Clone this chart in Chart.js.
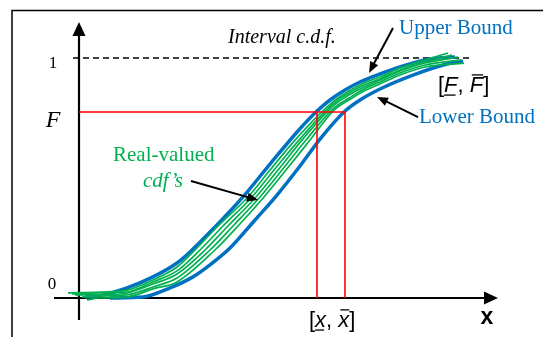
<!DOCTYPE html>
<html><head><meta charset="utf-8">
<script src="https://cdn.jsdelivr.net/npm/chart.js@4.4.1/dist/chart.umd.min.js"></script>
<style>html,body{margin:0;padding:0;background:#fff;overflow:hidden}#wrap{width:543px;height:337px;position:relative}</style>
</head><body><div id="wrap"><canvas id="c" width="543" height="337"></canvas></div>
<script>
// ---- data (x in arbitrary units, F = cumulative probability) ----
const upperX = [6, 24, 48, 74, 98, 111, 136, 164, 191, 219, 237, 251, 266, 281, 298, 321, 351, 376];
const upperF = [0.004, 0.013, 0.042, 0.088, 0.146, 0.192, 0.296, 0.421, 0.558, 0.696, 0.775, 0.825, 0.867, 0.9, 0.929, 0.963, 0.996, 1.004];
const lowerX = [31, 64, 91, 114, 131, 151, 176, 198, 221, 242, 265, 281, 301, 334, 368, 384];
const lowerF = [0, 0.004, 0.042, 0.088, 0.138, 0.208, 0.325, 0.429, 0.55, 0.667, 0.775, 0.825, 0.871, 0.929, 0.975, 0.988];
const cdf1X = [-11, 21, 48, 74, 98, 116, 139, 169, 191, 216, 255, 270, 285, 301, 321, 346, 369];
const cdf1F = [0.021, 0.025, 0.033, 0.075, 0.129, 0.2, 0.3, 0.421, 0.533, 0.658, 0.821, 0.8625, 0.896, 0.921, 0.958, 0.992, 1.021];
const cdf2X = [-7, 21, 48, 74, 98, 121, 144, 173, 195, 220, 255, 270, 285, 301, 321, 346, 373];
const cdf2F = [0.017, 0.021, 0.025, 0.067, 0.113, 0.2, 0.3, 0.421, 0.533, 0.658, 0.8125, 0.854, 0.8875, 0.9125, 0.95, 0.983, 1.0125];
const cdf3X = [-4, 21, 48, 74, 98, 126, 149, 177, 199, 223, 255, 270, 285, 301, 321, 346, 379];
const cdf3F = [0.013, 0.013, 0.021, 0.058, 0.1, 0.2, 0.3, 0.421, 0.533, 0.658, 0.804, 0.846, 0.879, 0.908, 0.946, 0.979, 1.004];
const cdf4X = [3, 21, 48, 74, 98, 131, 154, 181, 203, 227, 255, 270, 285, 301, 321, 346, 382];
const cdf4F = [0.004, 0.008, 0.013, 0.046, 0.083, 0.2, 0.3, 0.421, 0.533, 0.658, 0.792, 0.833, 0.871, 0.9, 0.9375, 0.971, 0.992];
const cdf5X = [8, 21, 48, 74, 98, 136, 159, 185, 207, 231, 255, 270, 285, 301, 321, 346, 385];
const cdf5F = [-0.008, 0, 0.004, 0.038, 0.067, 0.2, 0.3, 0.421, 0.533, 0.658, 0.783, 0.825, 0.8625, 0.892, 0.929, 0.9625, 0.979];
const fLevel = 0.775;          // F
const xInterval = [238, 266];  // [x_, x-bar]
const topLevel = 1;            // interval c.d.f. upper limit
const yTickValues = [0, 1];
const yTickLabels = ['0', '1'];

// ---- styles / layout ----
const BLUE = '#0070C0', GREEN = '#00B050', RED = '#FF0000';
const SERIF = '"Liberation Serif", "DejaVu Serif", serif';
const SANS = '"Liberation Sans", Arial, sans-serif';
const pts = (xs, fs) => xs.map((x, i) => ({x: x, y: fs[i]}));
const line = (data, color, width, order, extra) => Object.assign({
  data: data, borderColor: color, borderWidth: width, pointRadius: 0, showLine: true,
  fill: false, order: order, cubicInterpolationMode: 'monotone', clip: false
}, extra || {});
const straight = {cubicInterpolationMode: 'default', tension: 0};

const datasets = [
  line(pts([0, xInterval[1]], [fLevel, fLevel]), RED, 1.6, 0, straight),
  line(pts([xInterval[0], xInterval[0]], [0, fLevel]), RED, 1.6, 0, straight),
  line(pts([xInterval[1], xInterval[1]], [0, fLevel]), RED, 1.6, 0, straight),
  line(pts(cdf1X, cdf1F), GREEN, 1.7, 1),
  line(pts(cdf2X, cdf2F), GREEN, 1.7, 1),
  line(pts(cdf3X, cdf3F), GREEN, 1.7, 1),
  line(pts(cdf4X, cdf4F), GREEN, 1.7, 1),
  line(pts(cdf5X, cdf5F), GREEN, 1.7, 1),
  line(pts(upperX, upperF), BLUE, 3.5, 2),
  line(pts(lowerX, lowerF), BLUE, 3.5, 2),
  line(pts([-6, 390], [topLevel, topLevel]), '#000', 1.3, 3, Object.assign({borderDash: [6, 4]}, straight))
];

// annotation positions in data units
const ann = {
  yAxis: {x: 0, f0: -0.092, f1: 1.15},
  xAxis: {f: 0, x0: -25, x1: 419},
  arrows: [
    {from: [314, 1.125], to: [290, 0.938]},
    {from: [339, 0.754], to: [298, 0.838]},
    {from: [112, 0.4875], to: [179, 0.408]}
  ]
};

function arrowHead(ctx, x0, y0, x1, y1, len, half) {
  const a = Math.atan2(y1 - y0, x1 - x0);
  ctx.beginPath();
  ctx.moveTo(x1, y1);
  ctx.lineTo(x1 - len * Math.cos(a) + half * Math.sin(a), y1 - len * Math.sin(a) - half * Math.cos(a));
  ctx.lineTo(x1 - len * Math.cos(a) - half * Math.sin(a), y1 - len * Math.sin(a) + half * Math.cos(a));
  ctx.closePath();
  ctx.fill();
}

function bracketLabel(ctx, x, y, sym, size) {
  const nf = size + 'px ' + SANS, itf = 'italic ' + size + 'px ' + SANS;
  let cx = x;
  const parts = [['[', nf], [sym, itf, 'under'], [', ', nf], [sym, itf, 'over'], [']', nf]];
  ctx.textBaseline = 'alphabetic';
  ctx.textAlign = 'left';
  ctx.lineWidth = 1.3;
  parts.forEach(p => {
    ctx.font = p[1];
    const w = ctx.measureText(p[0]).width;
    ctx.fillText(p[0], cx, y);
    if (p[2] === 'under') { ctx.beginPath(); ctx.moveTo(cx, y + 3); ctx.lineTo(cx + w - 2, y + 3); ctx.stroke(); }
    if (p[2] === 'over') { const top = y - size * 0.78; ctx.beginPath(); ctx.moveTo(cx + 2, top); ctx.lineTo(cx + w, top); ctx.stroke(); }
    cx += w;
  });
}

const deco = {
  id: 'deco',
  beforeDatasetsDraw(chart) {
    const ctx = chart.ctx, sx = chart.scales.x, sy = chart.scales.y;
    ctx.save();
    ctx.strokeStyle = '#000'; ctx.lineWidth = 1.5;
    ctx.beginPath(); ctx.moveTo(12, 340); ctx.lineTo(12, 10.5); ctx.lineTo(545, 10.5); ctx.stroke();
    ctx.lineWidth = 2.2; ctx.fillStyle = '#000';
    const ax = sx.getPixelForValue(ann.yAxis.x);
    const yb = sy.getPixelForValue(ann.yAxis.f0), yt = sy.getPixelForValue(ann.yAxis.f1);
    ctx.beginPath(); ctx.moveTo(ax, yb); ctx.lineTo(ax, yt + 10); ctx.stroke();
    arrowHead(ctx, ax, yb, ax, yt, 14, 6.5);
    const ay = sy.getPixelForValue(ann.xAxis.f);
    const xl = sx.getPixelForValue(ann.xAxis.x0), xr = sx.getPixelForValue(ann.xAxis.x1);
    ctx.beginPath(); ctx.moveTo(xl, ay); ctx.lineTo(xr - 10, ay); ctx.stroke();
    arrowHead(ctx, xl, ay, xr, ay, 14, 6.5);
    ctx.restore();
  },
  afterDatasetsDraw(chart) {
    const ctx = chart.ctx, sx = chart.scales.x, sy = chart.scales.y;
    const P = (x, f) => [sx.getPixelForValue(x), sy.getPixelForValue(f)];
    ctx.save();
    ctx.strokeStyle = '#000'; ctx.fillStyle = '#000'; ctx.lineWidth = 2;
    ann.arrows.forEach(a => {
      const p0 = P(a.from[0], a.from[1]), p1 = P(a.to[0], a.to[1]);
      const ang = Math.atan2(p1[1] - p0[1], p1[0] - p0[0]);
      ctx.beginPath(); ctx.moveTo(p0[0], p0[1]);
      ctx.lineTo(p1[0] - 8 * Math.cos(ang), p1[1] - 8 * Math.sin(ang)); ctx.stroke();
      arrowHead(ctx, p0[0], p0[1], p1[0], p1[1], 11, 4.5);
    });
    ctx.font = '17px ' + SERIF; ctx.textAlign = 'center'; ctx.textBaseline = 'middle'; ctx.fillStyle = '#000';
    const tickPos = {'0': [-27, 0.058], '1': [-26, 0.979]};
    yTickValues.forEach((v, i) => {
      const p = P(tickPos[yTickLabels[i]][0], tickPos[yTickLabels[i]][1]);
      ctx.fillText(yTickLabels[i], p[0], p[1]);
    });
    ctx.font = 'italic 24px ' + SERIF; ctx.textBaseline = 'alphabetic';
    let p = P(-26, 0.713); ctx.fillText('F', p[0], p[1]);
    ctx.textAlign = 'left';
    ctx.font = 'italic 20px ' + SERIF;
    p = P(149, 1.0625); ctx.fillText('Interval c.d.f.', p[0], p[1]);
    ctx.fillStyle = BLUE; ctx.font = '21px ' + SERIF;
    p = P(320, 1.1); ctx.fillText('Upper Bound', p[0], p[1]);
    p = P(340, 0.729); ctx.fillText('Lower Bound', p[0], p[1]);
    ctx.fillStyle = GREEN; ctx.font = '21px ' + SERIF;
    p = P(34, 0.5708); ctx.fillText('Real-valued', p[0], p[1]);
    ctx.font = 'italic 21px ' + SERIF;
    p = P(64, 0.4625); ctx.fillText('cdf\u2019s', p[0], p[1]);
    ctx.fillStyle = '#000'; ctx.strokeStyle = '#000';
    p = P(359, 0.858); bracketLabel(ctx, p[0], p[1], 'F', 22);
    p = P(230, -0.121); bracketLabel(ctx, p[0], p[1], 'x', 22);
    ctx.font = 'bold 23px ' + SANS; ctx.textAlign = 'center';
    p = P(408, -0.108); ctx.fillText('x', p[0], p[1]);
    ctx.restore();
  }
};

new Chart(document.getElementById('c'), {
  type: 'scatter',
  data: {datasets: datasets},
  options: {
    responsive: false, animation: false, devicePixelRatio: 1,
    layout: {padding: 0},
    plugins: {legend: {display: false}, tooltip: {enabled: false}},
    scales: {
      x: {type: 'linear', display: false, min: -79, max: 464},
      y: {type: 'linear', display: false, min: -0.1625, max: 1.24167}
    }
  },
  plugins: [deco]
});
</script></body></html>
